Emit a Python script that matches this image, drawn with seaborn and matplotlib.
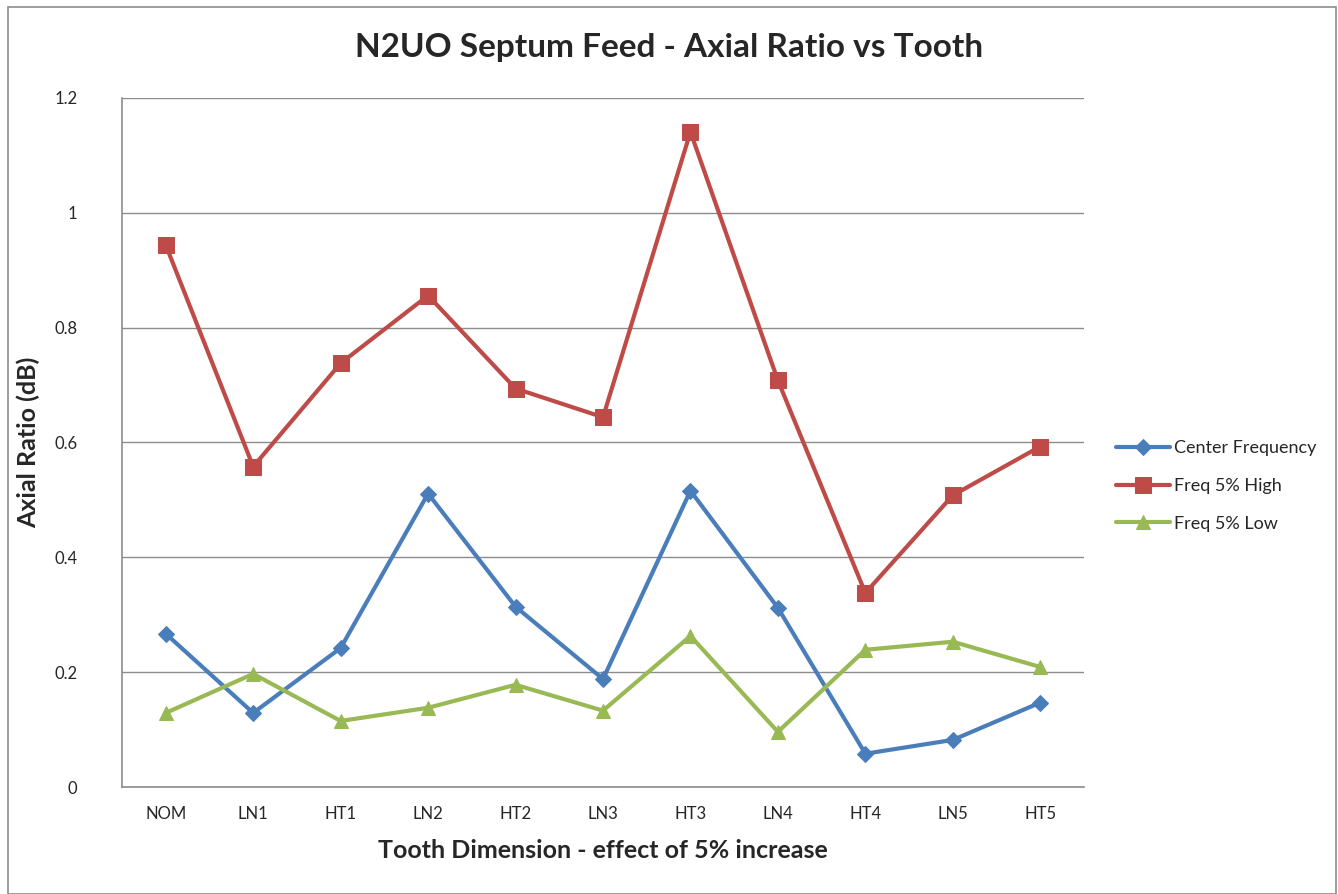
import matplotlib
matplotlib.use("Agg")
import matplotlib.pyplot as plt
import seaborn as sns
import pandas as pd
from matplotlib.patches import Rectangle

categories = ["NOM", "LN1", "HT1", "LN2", "HT2", "LN3", "HT3", "LN4", "HT4", "LN5", "HT5"]
center_freq = [0.267, 0.129, 0.242, 0.511, 0.314, 0.188, 0.516, 0.312, 0.058, 0.082, 0.147]
freq_high = [0.944, 0.558, 0.738, 0.856, 0.694, 0.644, 1.141, 0.708, 0.338, 0.508, 0.593]
freq_low = [0.129, 0.197, 0.115, 0.138, 0.178, 0.133, 0.263, 0.096, 0.239, 0.253, 0.209]
series_names = ["Center Frequency", "Freq 5% High", "Freq 5% Low"]
y_ticks = [0, 0.2, 0.4, 0.6, 0.8, 1, 1.2]
y_tick_labels = ["0", "0.2", "0.4", "0.6", "0.8", "1", "1.2"]

sns.set_theme(style="white")
plt.rcParams['font.family'] = ['Lato', 'DejaVu Sans']

rows = []
for name, vals in zip(series_names, [center_freq, freq_high, freq_low]):
    for i, v in enumerate(vals):
        rows.append({"x": i, "value": v, "series": name})
df = pd.DataFrame(rows)

colors = ["#4A7EBB", "#BE4B48", "#98B954"]
markers = ["D", "s", "^"]
msizes = [8, 11, 10]

fig = plt.figure(figsize=(13.38, 8.94), dpi=100)
ax = fig.add_axes([122/1338, (894-787)/894, (1084-122)/1338, (787-98)/894])

for name, c, m, ms in zip(series_names, colors, markers, msizes):
    sub = df[df["series"] == name]
    sns.lineplot(data=sub, x="x", y="value", ax=ax, color=c, marker=m,
                 markersize=ms, markeredgecolor=c, linewidth=3, label=name,
                 sort=False, zorder=3)

ax.set_xlim(-0.5, 10.5)
ax.set_ylim(0, 1.2)
ax.set_yticks(y_ticks)
ax.set_yticklabels(y_tick_labels, fontsize=12)
ax.set_xticks(range(len(categories)))
ax.set_xticklabels(categories, fontsize=12)
ax.tick_params(axis='x', pad=14, length=0)
ax.tick_params(axis='y', pad=32, length=0)
ax.yaxis.grid(True, color="#8C8C8C", linewidth=1)
ax.set_axisbelow(True)
for s in ["top", "right"]:
    ax.spines[s].set_visible(False)
for s in ["left", "bottom"]:
    ax.spines[s].set_color("#8C8C8C")
    ax.spines[s].set_linewidth(1.2)

ax.set_xlabel("Tooth Dimension - effect of 5% increase", fontsize=18, fontweight="bold", labelpad=12)
ax.set_ylabel("Axial Ratio (dB)", fontsize=18, fontweight="bold", labelpad=10)
fig.text(0.5, 1 - 47/894, "N2UO Septum Feed - Axial Ratio vs Tooth", fontsize=24,
         fontweight="bold", ha="center", va="center")

ax.get_legend().remove()
handles, labels = ax.get_legend_handles_labels()
fig.legend(handles, labels, loc="center left", bbox_to_anchor=(1100/1338, 1 - 486/894),
           frameon=False, fontsize=13, handlelength=3, labelspacing=1.2, handletextpad=0.2)

fig.patches.append(Rectangle((8/1338, 0.0), (1336-8)/1338, 1 - 7/894, transform=fig.transFigure,
                             fill=False, edgecolor="#8C8C8C", linewidth=1.2))

fig.savefig("out.png", dpi=100)
